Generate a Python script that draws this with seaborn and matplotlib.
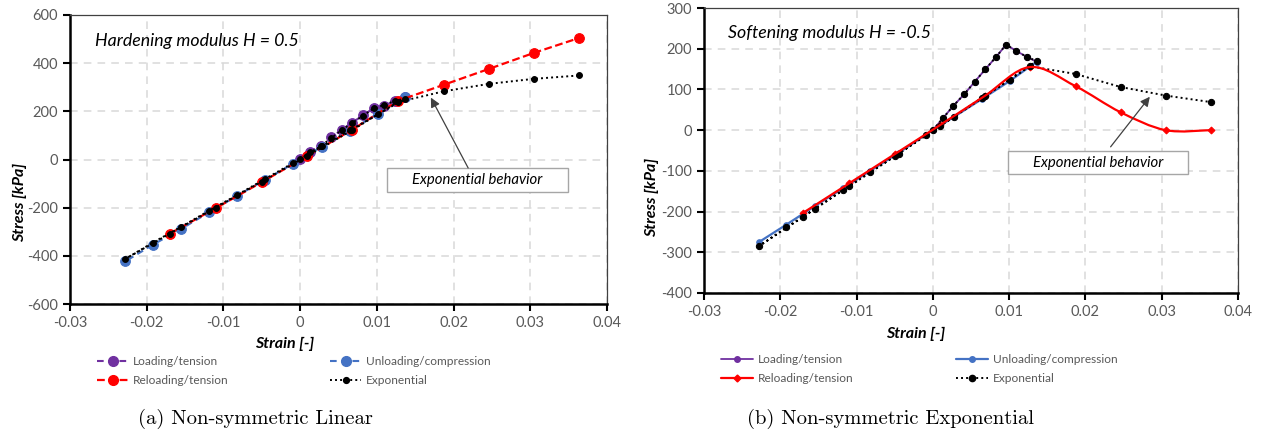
import numpy as np
import pandas as pd
import matplotlib
matplotlib.use("Agg")
import matplotlib.pyplot as plt
from matplotlib.path import Path
from matplotlib.patches import PathPatch, Rectangle
from matplotlib.lines import Line2D
import seaborn as sns

# ---------------- data: non-symmetric linear (H = 0.5) ----------------
lin_load_strain = [0.0, 0.0013, 0.0027, 0.0040, 0.0054, 0.0067, 0.0082, 0.0096, 0.0109, 0.0124, 0.0137]
lin_load_stress = [3, 33, 55, 93, 122, 152, 183, 214, 224, 242, 258]
lin_unload_strain = [0.0137, 0.0101, 0.0065, 0.0028, -0.0009, -0.0046, -0.0082, -0.0119, -0.0155, -0.0192, -0.0228]
lin_unload_stress = [258, 190, 120, 53, -17, -85, -150, -220, -288, -354, -423]
lin_reload_strain = [-0.0170, -0.0110, -0.0050, 0.0009, 0.0068, 0.0127, 0.0187, 0.0246, 0.0305, 0.0364]
lin_reload_stress = [-308, -202, -94, 14, 124, 243, 310, 376, 443, 505]
lin_exp_strain = [0.0, 0.0013, 0.0027, 0.0040, 0.0054, 0.0067, 0.0082, 0.0096, 0.0109, 0.0124, 0.0137,
                  0.0101, 0.0065, 0.0028, -0.0009, -0.0046, -0.0082, -0.0119, -0.0155, -0.0192, -0.0228,
                  -0.0170, -0.0110, -0.0050, 0.0009, 0.0068, 0.0127, 0.0187, 0.0246, 0.0305, 0.0364]
lin_exp_stress = [3, 30, 55, 88, 122, 150, 182, 212, 226, 244, 253,
                  187, 121, 54, -14, -81, -147, -213, -279, -345, -413,
                  -308, -200, -92, 14, 122, 238, 283, 314, 335, 349]

# ---------------- data: non-symmetric exponential (H = -0.5) ----------------
exp_load_strain = [0.0, 0.00135, 0.0027, 0.0041, 0.0055, 0.0069, 0.0083, 0.0096, 0.0109, 0.0123, 0.0136]
exp_load_stress = [0, 30, 60, 88, 119, 150, 180, 210, 195, 180, 168]
exp_unload_strain = [0.0136, 0.0101, 0.0064, 0.0028, -0.0009, -0.0045, -0.0082, -0.0118, -0.0155, -0.0192, -0.0228]
exp_unload_stress = [168, 121, 76, 33, -11, -56, -100, -143, -187, -232, -275]
exp_reload_strain = [-0.0170, -0.0110, -0.0050, 0.0009, 0.0068, 0.0127, 0.0187, 0.0246, 0.0305, 0.0364]
exp_reload_stress = [-203, -131, -59, 12, 84, 155, 108, 44, 0, 0]
exp_exp_strain = [0.0, 0.00135, 0.0027, 0.0041, 0.0055, 0.0069, 0.0083, 0.0096, 0.0109, 0.0123, 0.0136,
                  0.0101, 0.0064, 0.0028, -0.0009, -0.0045, -0.0082, -0.0118, -0.0155, -0.0192, -0.0228,
                  -0.0170, -0.0110, -0.0050, 0.0009, 0.0068, 0.0127, 0.0187, 0.0246, 0.0305, 0.0364]
exp_exp_stress = [0, 30, 60, 88, 119, 150, 180, 210, 195, 180, 170,
                  124, 78, 33, -13, -58, -104, -148, -194, -239, -285,
                  -213, -137, -64, 10, 84, 157, 138, 106, 85, 69]

# ---------------- tick labels and texts ----------------
strain_ticks = [-0.03, -0.02, -0.01, 0.0, 0.01, 0.02, 0.03, 0.04]
strain_tick_labels = ["-0.03", "-0.02", "-0.01", "0", "0.01", "0.02", "0.03", "0.04"]
lin_stress_ticks = [-600, -400, -200, 0, 200, 400, 600]
exp_stress_ticks = [-400, -300, -200, -100, 0, 100, 200, 300]
series_names = ["Loading/tension", "Unloading/compression", "Reloading/tension", "Exponential"]
panel_titles = ["Hardening modulus H = 0.5", "Softening modulus H = -0.5"]
captions = ["(a) Non-symmetric Linear", "(b) Non-symmetric Exponential"]
note_text = "Exponential behavior"

PURPLE = "#7030A0"
BLUE = "#4472C4"
RED = "#FF0000"
BLACK = "#000000"
GRAY_TXT = "#595959"

sns.set_theme(style="white")
plt.rcParams["font.family"] = ["Lato", "DejaVu Sans"]

W, H = 1265, 437
fig = plt.figure(figsize=(W / 100, H / 100), dpi=100)
ax1 = fig.add_axes([70 / W, 1 - 304 / H, (607 - 70) / W, (304 - 15) / H])
ax2 = fig.add_axes([704 / W, 1 - 293 / H, (1238 - 704) / W, (293 - 8) / H])


def style_axes(ax, yticks):
    ax.set_xlim(strain_ticks[0], strain_ticks[-1])
    ax.set_xticks(strain_ticks)
    ax.set_xticklabels(strain_tick_labels)
    ax.set_ylim(yticks[0], yticks[-1])
    ax.set_yticks(yticks)
    ax.set_yticklabels([str(v) for v in yticks])
    ax.grid(True, color="#D9D9D9", linestyle=(0, (5, 4)), linewidth=1.1)
    ax.set_axisbelow(True)
    for s in ("top", "right"):
        ax.spines[s].set_color("#404040")
        ax.spines[s].set_linewidth(0.9)
    for s in ("left", "bottom"):
        ax.spines[s].set_color("black")
        ax.spines[s].set_linewidth(1.8)
    ax.tick_params(direction="out", length=5, width=1.5, colors="black",
                   labelcolor=GRAY_TXT, labelsize=10.5, bottom=True, left=True)
    ax.set_xlabel("Strain [-]", fontweight="bold", fontstyle="italic", fontsize=11.5, color="black")
    ax.set_ylabel("Stress [kPa]", fontweight="bold", fontstyle="italic", fontsize=11.5, color="black")


def draw(ax, x, y, **kw):
    sns.lineplot(x=x, y=y, ax=ax, sort=False, estimator=None, errorbar=None, legend=False, **kw)


def smooth_path(x, y):
    # Catmull-Rom style cubic Bezier through the points
    px = np.asarray(x, float)
    py = np.asarray(y, float)
    n = len(px)
    verts = [(px[0], py[0])]
    codes = [Path.MOVETO]
    for i in range(n - 1):
        i0 = max(i - 1, 0)
        i3 = min(i + 2, n - 1)
        c1 = (px[i] + (px[i + 1] - px[i0]) / 6, py[i] + (py[i + 1] - py[i0]) / 6)
        c2 = (px[i + 1] - (px[i3] - px[i]) / 6, py[i + 1] - (py[i3] - py[i]) / 6)
        verts += [c1, c2, (px[i + 1], py[i + 1])]
        codes += [Path.CURVE4] * 3
    return Path(verts, codes)


# ---------------- panel (a) ----------------
dash_long = (0, (3.2, 2.2))
dash_red = (0, (3.5, 1.6))
dot = (0, (1, 1.6))

load_kw = dict(color=PURPLE, linestyle=dash_long, linewidth=1.5, marker="o", markersize=7,
               markeredgecolor=PURPLE, markerfacecolor=PURPLE)
unload_kw = dict(color=BLUE, linestyle=dash_long, linewidth=1.5, marker="o", markersize=7,
                 markeredgecolor=BLUE, markerfacecolor=BLUE)
reload_kw = dict(color=RED, linestyle=dash_red, linewidth=1.6, marker="o", markersize=7,
                 markeredgecolor=RED, markerfacecolor=RED)
expo_kw = dict(color=BLACK, linestyle=dot, linewidth=1.4, marker="o", markersize=4.2,
               markeredgecolor=BLACK, markerfacecolor=BLACK)

draw(ax1, lin_load_strain, lin_load_stress, **load_kw)
draw(ax1, lin_unload_strain, lin_unload_stress, **unload_kw)
draw(ax1, lin_reload_strain, lin_reload_stress, **reload_kw)
draw(ax1, lin_exp_strain, lin_exp_stress, **expo_kw)
style_axes(ax1, lin_stress_ticks)

# ---------------- panel (b) ----------------
load2_kw = dict(color=PURPLE, linestyle="-", linewidth=1.3, marker="o", markersize=4,
                markeredgecolor=PURPLE, markerfacecolor=PURPLE)
unload2_kw = dict(color=BLUE, linestyle="-", linewidth=1.6, marker="o", markersize=4,
                  markeredgecolor=BLUE, markerfacecolor=BLUE)
reload2_kw = dict(color=RED, linestyle="-", linewidth=1.6, marker="D", markersize=3.5,
                  markeredgecolor=RED, markerfacecolor=RED)
expo2_kw = dict(color=BLACK, linestyle=dot, linewidth=1.4, marker="o", markersize=4.5,
                markeredgecolor=BLACK, markerfacecolor=BLACK)

draw(ax2, exp_load_strain, exp_load_stress, **load2_kw)
draw(ax2, exp_unload_strain, exp_unload_stress, **unload2_kw)
ax2.add_patch(PathPatch(smooth_path(exp_reload_strain, exp_reload_stress), facecolor="none",
                        edgecolor=RED, linewidth=1.6, zorder=2.5))
draw(ax2, exp_reload_strain, exp_reload_stress,
     **{**reload2_kw, "linestyle": "none"})
draw(ax2, exp_exp_strain, exp_exp_stress, **expo2_kw)
style_axes(ax2, exp_stress_ticks)

# axis label placement
ax1.xaxis.set_label_coords(0.400, -0.114)
ax1.yaxis.set_label_coords(-0.080, 0.353)
ax2.xaxis.set_label_coords(0.397, -0.118)
ax2.yaxis.set_label_coords(-0.084, 0.337)

# panel titles
for ax, t, pos in ((ax1, panel_titles[0], (0.0466, 0.910)), (ax2, panel_titles[1], (0.045, 0.912))):
    ax.text(pos[0], pos[1], t, transform=ax.transAxes, fontsize=12.8, fontstyle="italic",
            ha="left", va="center", color="black")


# note box with arrow
def note(ax, box, tail, head):
    (x0, x1), (y0, y1) = box
    ax.add_patch(Rectangle((x0, y0), x1 - x0, y1 - y0, facecolor="white",
                           edgecolor="#A6A6A6", linewidth=1.0, zorder=5))
    ax.text((x0 + x1) / 2, (y0 + y1) / 2, note_text, fontsize=10.7, fontstyle="italic",
            ha="center", va="center", color="black", zorder=6)
    ax.annotate("", xy=head, xytext=tail,
                arrowprops=dict(arrowstyle="-|>", color="#404040", lw=0.9,
                                mutation_scale=14, shrinkA=0, shrinkB=0), zorder=6)


note(ax1, ((0.01134, 0.03494), (-137, -37)), (0.0219, -35), (0.01704, 257))
note(ax2, ((0.00983, 0.03342), (-108, -52)), (0.0233, -41), (0.02844, 82))


# legends
def handle(kw):
    return Line2D([], [], **kw)


def place_legend(handles, labels, x_px, y_px, hl):
    fig.legend(handles, labels, loc="center left", bbox_to_anchor=(x_px / W, 1 - y_px / H),
               frameon=False, fontsize=8.6, labelcolor=GRAY_TXT, handlelength=hl,
               handletextpad=0.4, labelspacing=0.65, borderpad=0, borderaxespad=0)


place_legend([handle(load_kw), handle(reload_kw)], [series_names[0], series_names[2]], 97, 371, 2.6)
place_legend([handle(unload_kw), handle(expo_kw)], [series_names[1], series_names[3]], 330, 371, 2.6)
place_legend([handle(load2_kw), handle(reload2_kw)], [series_names[0], series_names[2]], 721, 369, 2.7)
place_legend([handle(unload2_kw), handle(expo2_kw)], [series_names[1], series_names[3]], 956, 369, 2.7)

# captions
for cx, cap in ((255, captions[0]), (890, captions[1])):
    fig.text(cx / W, 1 - 419 / H, cap, ha="center", va="center", fontsize=14.8,
             family=["cmr10", "DejaVu Serif"], color="black")

fig.savefig("out.png", dpi=100, facecolor="white")
